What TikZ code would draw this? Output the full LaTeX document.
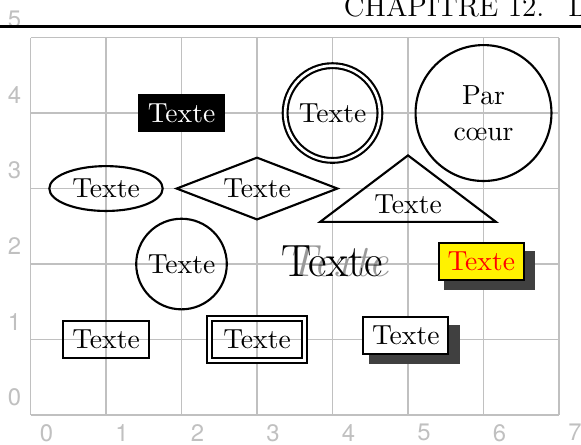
\documentclass[tikz,border=0pt]{standalone}
\usepackage{fontspec}
\newfontfamily\etiqfont{TeX Gyre Heros}
\usetikzlibrary{positioning,shapes.geometric,shadows}
\definecolor{grillegris}{RGB}{192,192,192}
\tikzset{
  grille/.style={grillegris, line width=0.7pt},
  etiq/.style={font=\etiqfont\fontsize{9}{11}\selectfont, text=grillegris},
  forme/.style={draw, thick},
  boite/.style={forme, rectangle},
  noir/.style={boite, fill=black, text=white},
  boitedouble/.style={boite, double, double distance=1pt, minimum width=1.255cm, minimum height=0.555cm},
  cercle/.style={forme, circle, inner sep=1pt, minimum size=1.2cm},
  cercledouble/.style={cercle, double, double distance=1pt, minimum size=1.255cm},
  ovale/.style={forme, ellipse, inner sep=2.4pt},
  losange/.style={forme, diamond, aspect=2.6, inner sep=1pt, minimum width=2.14cm, minimum height=0.83cm},
  tri/.style={forme, isosceles triangle, shape border rotate=90, isosceles triangle apex angle=105.8, inner sep=3pt},
  ombree/.style={boite, drop shadow={shadow xshift=3pt, shadow yshift=-3pt, shadow scale=1.07, fill=black!75, opacity=1}},
  grand/.style={font=\fontsize{17}{20}\selectfont},
}

\begin{document}
\begin{tikzpicture}[font=\fontsize{10.4}{13.5}\selectfont]
  \useasboundingbox (-0.404,-0.384) rectangle (7.291,5.497);
  % --- grid and graduations ---
  \draw[grille] (0,0) grid (7,5);
  \foreach \i in {0,...,7}
    \node[etiq, below right] (x\i) at (\i,0) {\i};
  \foreach \j in {0,...,5}
    \node[etiq, above left] (y\j) at (0,\j) {\j};

  % --- page header ---
  \node[anchor=base west, inner sep=0pt, font=\fontsize{11}{13}\selectfont] (entete) at (4.145,5.28)
    {CHAPITRE 12.\hspace{9pt}L};
  \draw[line width=1pt] (-0.5,5.145) -- (7.4,5.145);

  % --- row 4 ---
  \node[noir] (noir) at (2,4) {Texte};
  \node[cercledouble] (cdouble) at (4,4) {Texte};
  \node[cercle, minimum size=1.8cm, align=center] (parcoeur) at (6,4) {Par\\cœur};

  % --- row 3 ---
  \node[ovale] (ovale) at (1,3) {Texte};
  \node[losange] (losange) at (3,3) {Texte};
  \node[tri] (tri) at (5,2.79) {Texte};

  % --- row 2 ---
  \node[cercle] (cercle) at (2,2) {Texte};
  \node[text=black!40, font=\fontsize{17}{20}\selectfont\itshape] (reflet) at (4.06,2.04) {Texte};
  \node[grand] (titre) at (4,2.04) {Texte};
  \node[ombree, fill=yellow, text=red] (jaune) at (5.97,2.03) {Texte};

  % --- row 1 ---
  \node[boite] (simple) at (1,1) {Texte};
  \node[boitedouble] (double) at (3,1) {Texte};
  \node[ombree, fill=white] (blanche) at (4.97,1.05) {Texte};
\end{tikzpicture}
\end{document}
